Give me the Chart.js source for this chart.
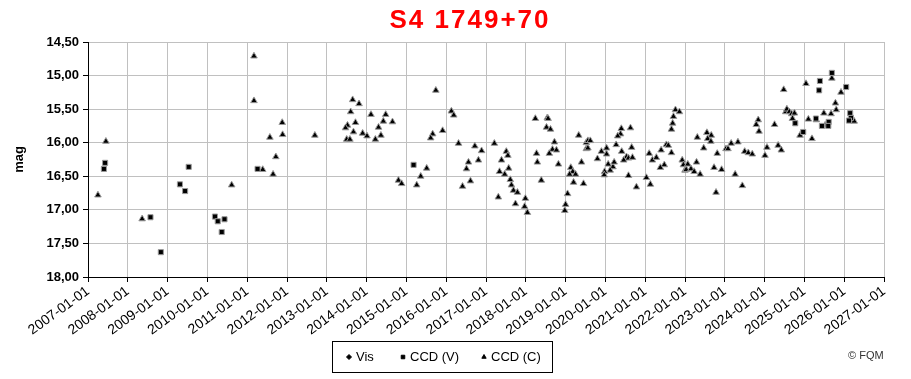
<!DOCTYPE html>
<html><head><meta charset="utf-8">
<script src="https://cdn.jsdelivr.net/npm/chart.js@4.4.1/dist/chart.umd.min.js"></script>
<style>html,body{margin:0;padding:0;background:#fff}#wrap{width:911px;height:379px;position:relative}</style>
</head><body><div id="wrap"><canvas id="c" width="911" height="379"></canvas></div>
<script>
const chartTitle = "S4 1749+70";
const yTitle = "mag";
const seriesNames = ["Vis", "CCD (V)", "CCD (C)"];
const xMin = 2007, xMax = 2027;
const yMin = 14.5, yMax = 18.0;

const visYears = [];
const visMags = [];

const ccdVYears = [2007.43,2007.40,2008.57,2008.83,2009.31,2009.44,2009.53,2010.19,2010.26,2010.43,2010.36,2011.26,2015.18,2024.77,2024.97,2025.39,2025.37,2025.29,2025.69,2026.05,2025.61,2025.44,2025.60,2026.15,2026.17,2026.12];
const ccdVMags  = [16.30,16.39,17.11,17.63,16.62,16.72,16.36,17.10,17.17,17.14,17.33,16.39,16.33,15.71,15.84,15.08,15.22,15.64,14.96,15.17,15.69,15.75,15.75,15.56,15.63,15.67];

const ccdCYears = [2007.45,2007.25,2008.36,2010.61,2011.17,2011.17,2011.88,2011.89,2011.57,2011.72,2011.39,2011.65,2012.70,2013.65,2013.81,2013.60,2014.11,2014.48,2013.72,2013.52,2013.47,2014.42,2014.30,2013.67,2013.90,2014.01,2014.36,2014.22,2013.50,2013.58,2014.65,2015.74,2016.13,2016.19,2015.91,2015.66,2015.61,2016.31,2016.72,2016.89,2016.81,2016.56,2016.51,2016.61,2016.41,2015.51,2015.36,2015.26,2014.80,2014.88,2017.21,2017.51,2017.55,2017.39,2017.57,2017.34,2017.47,2017.61,2017.64,2017.69,2017.79,2017.31,2017.74,2017.99,2017.97,2018.04,2018.24,2018.54,2018.56,2018.52,2018.62,2018.72,2018.67,2018.77,2018.59,2018.27,2018.29,2018.82,2018.39,2019.33,2019.52,2019.52,2019.13,2019.18,2019.25,2019.10,2019.40,2019.20,2019.45,2019.05,2019.00,2018.98,2019.56,2019.62,2019.56,2019.90,2020.03,2020.03,2019.80,2020.07,2020.19,2020.22,2020.12,2019.98,2019.97,2020.40,2020.63,2020.38,2020.31,2020.27,2020.41,2020.66,2020.53,2020.58,2020.68,2020.46,2020.58,2020.78,2021.03,2021.13,2021.10,2021.18,2021.28,2021.40,2021.48,2021.38,2021.53,2021.58,2021.66,2021.66,2021.69,2021.71,2021.76,2021.86,2021.93,2021.96,2022.00,2022.07,2022.03,2022.15,2022.23,2022.29,2022.38,2022.31,2022.55,2022.66,2022.57,2022.65,2022.47,2022.81,2022.73,2022.92,2022.78,2023.03,2023.08,2023.16,2023.33,2023.50,2023.59,2023.69,2023.26,2023.44,2023.84,2023.79,2023.86,2024.06,2024.01,2024.25,2024.34,2024.42,2024.48,2024.53,2024.56,2024.62,2024.68,2024.75,2024.70,2025.04,2025.10,2025.30,2024.89,2025.19,2025.69,2025.92,2025.78,2025.80,2025.49,2025.67,2025.52,2026.25];
const ccdCMags  = [15.98,16.78,17.135,16.63,14.71,15.375,15.70,15.88,15.92,16.21,16.40,16.47,15.89,15.36,15.42,15.54,15.58,15.58,15.70,15.74,15.78,15.68,15.77,15.84,15.86,15.90,15.89,15.95,15.95,15.95,15.69,15.22,15.53,15.59,15.82,15.87,15.93,16.01,16.05,16.12,16.26,16.29,16.39,16.57,16.65,16.38,16.50,16.63,16.56,16.61,16.01,16.13,16.19,16.26,16.38,16.43,16.47,16.55,16.63,16.71,16.74,16.81,16.91,16.83,16.95,17.04,15.64,15.63,15.64,15.77,15.80,15.99,16.10,16.11,16.16,16.16,16.29,16.32,16.56,15.89,16.00,16.09,16.37,16.43,16.47,16.47,16.29,16.59,16.61,16.76,16.92,17.01,15.97,15.97,16.08,16.13,16.08,16.17,16.24,16.32,16.36,16.29,16.41,16.43,16.48,15.79,15.78,15.87,15.90,16.03,16.13,16.07,16.21,16.23,16.22,16.26,16.49,16.66,16.52,16.62,16.16,16.26,16.22,16.11,16.33,16.37,16.03,16.04,16.15,15.80,15.71,15.61,15.51,15.54,16.26,16.33,16.41,16.32,16.40,16.39,16.43,16.29,16.47,15.92,15.85,15.89,15.94,15.98,16.08,16.16,16.37,16.40,16.74,16.09,16.09,16.01,15.99,16.13,16.15,16.17,16.47,16.64,15.66,15.73,15.83,16.07,16.19,15.73,16.04,16.11,15.21,15.54,15.50,15.54,15.57,15.56,15.64,15.12,15.65,15.66,15.89,15.94,15.04,15.25,15.41,15.51,15.56,15.57,15.74,15.68];

const FONT = "'Liberation Sans', Arial, sans-serif";
const pts = (xs, ys) => xs.map((x, i) => ({x: x, y: ys[i]}));

const styles = [
  {pointStyle: 'rectRot', radius: 3},
  {pointStyle: 'rect', radius: 3.6},
  {pointStyle: 'triangle', radius: 3.8}
];

const decor = {
  id: 'decor',
  afterDraw(chart) {
    const ctx = chart.ctx;
    ctx.save();
    ctx.fillStyle = '#ff0000';
    ctx.font = "bold 26px " + FONT;
    if ('letterSpacing' in ctx) ctx.letterSpacing = '2px';
    ctx.textAlign = 'center';
    ctx.textBaseline = 'middle';
    ctx.fillText(chartTitle, 470, 21);
    if ('letterSpacing' in ctx) ctx.letterSpacing = '0px';
    ctx.strokeStyle = '#000';
    ctx.lineWidth = 1;
    ctx.strokeRect(332.5, 341.5, 220, 31);
    ctx.font = "13px " + FONT;
    ctx.textAlign = 'left';
    const items = [[349, 356], [403, 410], [484, 491]];
    chart.data.datasets.forEach((ds, i) => {
      const [mx, tx] = items[i];
      ctx.fillStyle = '#000';
      ctx.strokeStyle = '#000';
      Chart.helpers.drawPoint(ctx, {pointStyle: ds.pointStyle, radius: 2.5, borderWidth: 1, rotation: 0}, mx, 357);
      ctx.fillText(ds.label, tx, 357);
    });
    ctx.font = "11px " + FONT;
    ctx.fillStyle = '#333';
    ctx.fillText("\u00a9 FQM", 848, 356);
    ctx.restore();
  }
};

new Chart(document.getElementById('c'), {
  type: 'scatter',
  data: {
    datasets: [
      {label: seriesNames[0], data: pts(visYears, visMags)},
      {label: seriesNames[1], data: pts(ccdVYears, ccdVMags)},
      {label: seriesNames[2], data: pts(ccdCYears, ccdCMags)}
    ].map((d, i) => Object.assign(d, {
      pointStyle: styles[i].pointStyle,
      pointRadius: styles[i].radius,
      backgroundColor: '#000',
      borderColor: '#9a9a9a',
      borderWidth: 1,
      pointHoverRadius: styles[i].radius
    }))
  },
  options: {
    responsive: false,
    animation: false,
    events: [],
    layout: {padding: {top: 42, right: 27, left: 12, bottom: 0}},
    plugins: {legend: {display: false}, title: {display: false}, tooltip: {enabled: false}},
    scales: {
      x: {
        type: 'linear', min: xMin, max: xMax,
        afterFit(s) { s.height = 102; },
        ticks: {
          stepSize: 1, autoSkip: false, maxRotation: 36, minRotation: 36,
          color: '#000', font: {family: FONT, size: 14}, padding: 1,
          callback: v => Number.isInteger(v) ? v + '-01-01' : ''
        },
        grid: {color: '#c0c0c0', tickColor: '#000', tickLength: 5, lineWidth: 1},
        border: {color: '#000', width: 1}
      },
      y: {
        reverse: true, min: yMin, max: yMax,
        afterFit(s) { s.width = 76; },
        ticks: {
          stepSize: 0.5, color: '#000', font: {family: FONT, size: 13, weight: 'bold'}, padding: 4,
          callback: v => v.toFixed(2).replace('.', ',')
        },
        title: {display: true, text: yTitle, color: '#000', font: {family: FONT, size: 13, weight: 'bold'}, padding: {top: 0, bottom: 6}},
        grid: {color: '#c0c0c0', tickColor: '#000', tickLength: 5, lineWidth: 1},
        border: {color: '#000', width: 1}
      }
    }
  },
  plugins: [decor]
});
</script>
</body></html>
